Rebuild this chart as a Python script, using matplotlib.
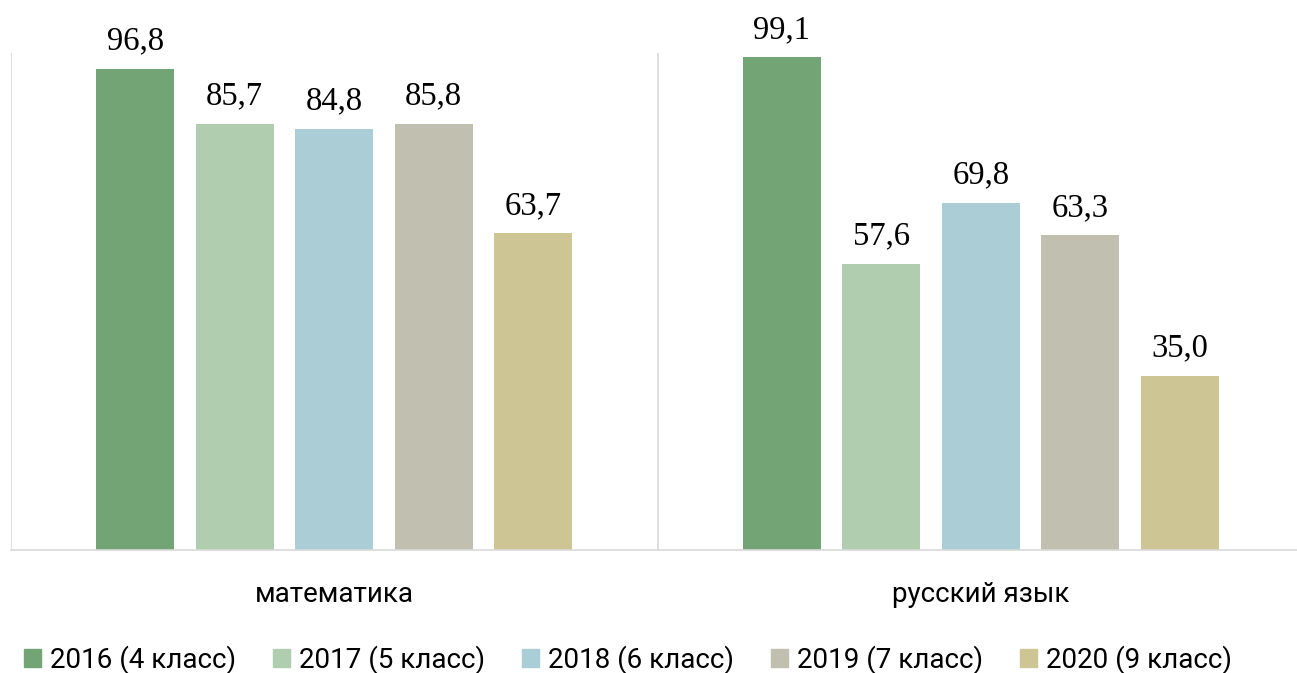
import numpy as np
import matplotlib
matplotlib.use("Agg")
import matplotlib.pyplot as plt
from matplotlib.patches import Patch

# ── Data ─────────────────────────────────────────────────────────────
subjects = ["математика", "русский язык"]
series = ["2016 (4 класс)", "2017 (5 класс)", "2018 (6 класс)",
          "2019 (7 класс)", "2020 (9 класс)"]
values = [
    [96.8, 99.1],
    [85.7, 57.6],
    [84.8, 69.8],
    [85.8, 63.3],
    [63.7, 35.0],
]
colors = ["#72A476", "#B1CDB0", "#AACDD6", "#C1BFB0", "#CEC594"]

sans = ["Roboto", "DejaVu Sans"]
serif = ["Liberation Serif", "DejaVu Serif"]

fig = plt.figure(figsize=(12.97, 6.73), dpi=100)
ax = fig.add_axes([11 / 1297, 1 - 550 / 673, 1293 / 1297, 497 / 673])

x = np.arange(len(subjects))
step, width = 0.154, 0.1207
for i, (name, vals) in enumerate(zip(series, values)):
    pos = x + (i - 2) * step
    bars = ax.bar(pos, vals, width, color=colors[i], zorder=2)
    for b, v in zip(bars, vals):
        ax.annotate(f"{v:.1f}".replace(".", ","),
                    (b.get_x() + b.get_width() / 2, v),
                    xytext=(0, 9), textcoords="offset points",
                    ha="center", va="bottom", fontsize=23.5,
                    family=serif, color="#000000")

ax.set_xlim(-0.5, 1.5)
ax.set_ylim(0, 100)
for xv in [-0.5, 0.5, 1.5]:
    ax.axvline(xv, color="#D9D9D9", lw=1.2, zorder=1)
for s in ["top", "right", "left"]:
    ax.spines[s].set_visible(False)
ax.spines["bottom"].set_color("#D9D9D9")
ax.spines["bottom"].set_linewidth(1.2)
ax.set_yticks([])
ax.set_xticks(x)
ax.set_xticklabels(subjects, fontsize=20, family=sans)
ax.tick_params(axis="x", length=0, pad=22)

handles = [Patch(color=c) for c in colors]
fig.legend(handles, series, loc="center", ncol=5,
           bbox_to_anchor=(628 / 1297, 13 / 673), frameon=False,
           prop={"family": sans, "size": 20},
           handlelength=0.61, handleheight=0.61, handletextpad=0.32,
           columnspacing=1.33, borderpad=0)

fig.savefig("out.png", dpi=100)
